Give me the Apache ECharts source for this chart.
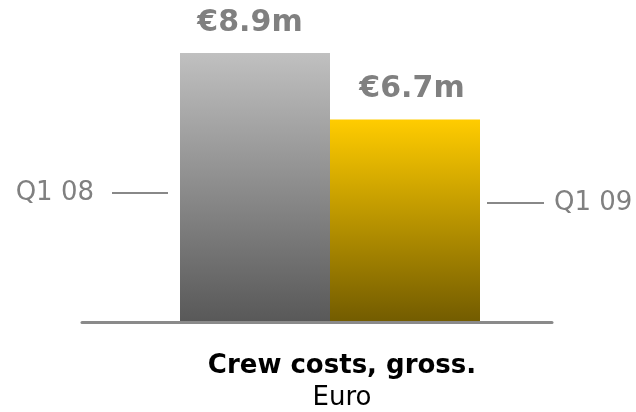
<!DOCTYPE html>
<html>
<head>
<meta charset="utf-8">
<script src="https://cdn.jsdelivr.net/npm/echarts@6/dist/echarts.min.js"></script>
<style>
  html, body { margin: 0; padding: 0; background: #fff; }
  #chart { width: 636px; height: 412px; }
</style>
</head>
<body>
<div id="chart"></div>
<script>
// Quarterly crew costs (EUR millions)
const categories = ['Q1 08', 'Q1 09'];
const values = [8.9, 6.7];
const valueLabels = ['€8.9m', '€6.7m'];
const chartTitle = 'Crew costs, gross.';
const chartUnit = 'Euro';

const FONT = 'DejaVu Sans, Verdana, sans-serif';
const GREY_TEXT = '#808080';

const gradients = [
  new echarts.graphic.LinearGradient(0, 0, 0, 1, [
    { offset: 0, color: '#c0c0c0' },
    { offset: 1, color: '#585858' }
  ]),
  new echarts.graphic.LinearGradient(0, 0, 0, 1, [
    { offset: 0, color: '#ffcc00' },
    { offset: 1, color: '#725b00' }
  ])
];
const labelOffsets = [[-5, 0], [7, 0]];

const chart = echarts.init(document.getElementById('chart'), null, { renderer: 'canvas' });

chart.setOption({
  animation: false,
  grid: [
    // bars
    { left: 180, right: 156, top: 19.7, bottom: 89.5 },
    // full-width baseline
    { left: 82, right: 84, top: 19.7, bottom: 89.5 }
  ],
  xAxis: [
    {
      gridIndex: 0, type: 'category', data: categories,
      axisLine: { show: false }, axisTick: { show: false }, axisLabel: { show: false }
    },
    {
      gridIndex: 1, type: 'value', min: 0, max: 1, z: 5,
      axisLine: { show: true, lineStyle: { color: '#8a8a8a', width: 3 } },
      axisTick: { show: false }, axisLabel: { show: false }, splitLine: { show: false }
    }
  ],
  yAxis: [
    { gridIndex: 0, type: 'value', min: 0, max: 10, show: false },
    { gridIndex: 1, type: 'value', min: 0, max: 10, show: false }
  ],
  series: [{
    type: 'bar',
    xAxisIndex: 0,
    yAxisIndex: 0,
    barCategoryGap: 0,
    data: values.map((v, i) => ({
      value: v,
      itemStyle: { color: gradients[i] },
      label: { offset: labelOffsets[i] }
    })),
    label: {
      show: true,
      position: 'top',
      distance: 15,
      fontFamily: FONT,
      fontSize: 30,
      fontWeight: 'bold',
      color: GREY_TEXT,
      formatter: p => valueLabels[p.dataIndex]
    }
  }]
});

// Side annotations with leader lines, anchored on the bar edges
const c0 = chart.convertToPixel({ xAxisIndex: 0 }, categories[0]);
const c1 = chart.convertToPixel({ xAxisIndex: 0 }, categories[1]);
const half = (c1 - c0) / 2;
const leftEdge = c0 - half;
const rightEdge = c1 + half;
const leftY = 193;
const rightY = 203;

chart.setOption({
  graphic: [
    {
      type: 'line', silent: true,
      shape: { x1: leftEdge - 68, y1: leftY, x2: leftEdge - 12, y2: leftY },
      style: { stroke: '#888', lineWidth: 2 }
    },
    {
      type: 'text', silent: true, x: leftEdge - 86, y: leftY,
      style: { text: categories[0], font: '26px ' + FONT, fill: GREY_TEXT, align: 'right', verticalAlign: 'middle' }
    },
    {
      type: 'line', silent: true,
      shape: { x1: rightEdge + 7, y1: rightY, x2: rightEdge + 64, y2: rightY },
      style: { stroke: '#888', lineWidth: 2 }
    },
    {
      type: 'text', silent: true, x: rightEdge + 74, y: rightY,
      style: { text: categories[1], font: '26px ' + FONT, fill: GREY_TEXT, align: 'left', verticalAlign: 'middle' }
    },
    {
      type: 'text', silent: true, x: 342, y: 366.5,
      style: { text: chartTitle, font: 'bold 26px ' + FONT, fill: '#000', align: 'center', verticalAlign: 'middle' }
    },
    {
      type: 'text', silent: true, x: 342, y: 398.5,
      style: { text: chartUnit, font: '26px ' + FONT, fill: '#000', align: 'center', verticalAlign: 'middle' }
    }
  ]
});
</script>
</body>
</html>
